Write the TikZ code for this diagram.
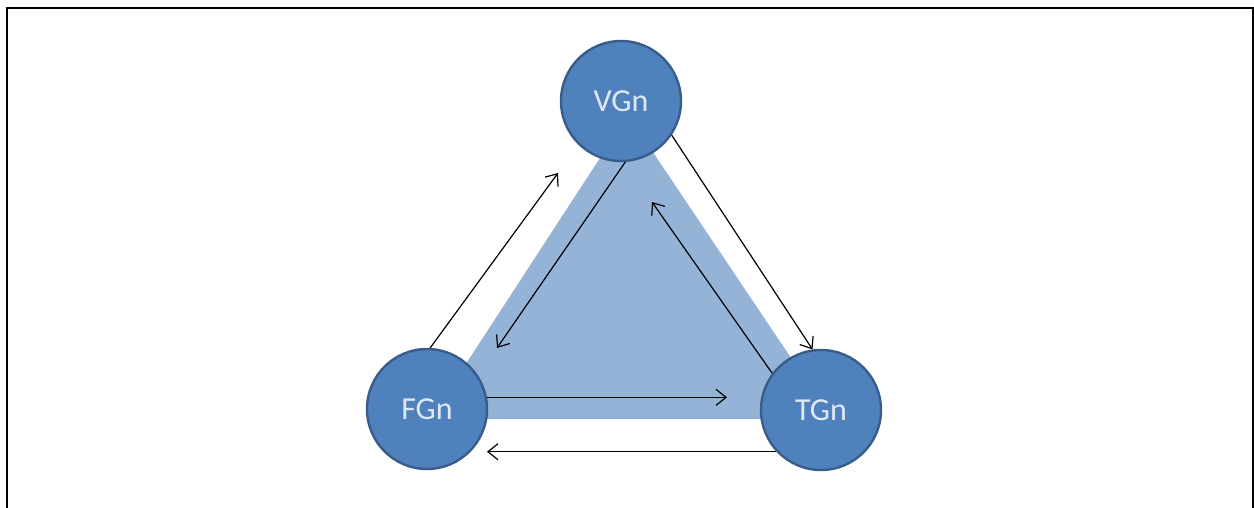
\documentclass[tikz,border=0pt]{standalone}
\usepackage{fontspec}
\setmainfont{Carlito}
\usetikzlibrary{arrows.meta}
\definecolor{nodefill}{RGB}{79,129,189}
\definecolor{nodeline}{RGB}{56,93,138}
\definecolor{trifill}{RGB}{149,179,215}
\definecolor{nodetext}{RGB}{222,232,245}
\tikzset{
  gnode/.style={circle, fill=nodefill, draw=nodeline, line width=1.2pt,
    minimum size=60pt, inner sep=0pt, text=nodetext,
    font=\fontsize{16}{18}\selectfont},
  flow/.style={line width=0.6pt, draw=black,
    -{Straight Barb[length=5pt,width=8pt,line width=0.6pt]}}
}
\begin{document}
\begin{tikzpicture}[x=0.5pt,y=-0.5pt]
  \useasboundingbox (0,0) rectangle (1254,508);
  % open frame
  \draw[line width=1pt] (7,508) -- (7,8.5) -- (1252.5,8.5) -- (1252.5,508);
  % shaded triangle behind the three nodes
  \fill[trifill] (430,419) -- (628,115) -- (832,419) -- cycle;
  % nodes
  \node[gnode] (V) at (621,101) {VGn};
  \node[gnode] (F) at (427,409) {FGn};
  \node[gnode] (T) at (821,410) {TGn};
  % arrow tips that stop short of a node
  \coordinate (tFV) at (558,173);
  \coordinate (tVF) at (497,348);
  \coordinate (tTV) at (652,202);
  \coordinate (tFT) at (727,397);
  \coordinate (tTF) at (487,451);
  % connectors
  \draw[flow] (F.87) -- (tFV);
  \draw[flow] (V.-86) -- (tVF);
  \draw[flow] (V.-34) -- (T.98);
  \draw[flow] (T.143) -- (tTV);
  \draw[flow] (F.11.5) -- (F.11.5 -| tFT);
  \draw[flow] (T.223) -- (T.223 -| tTF);
\end{tikzpicture}
\end{document}
